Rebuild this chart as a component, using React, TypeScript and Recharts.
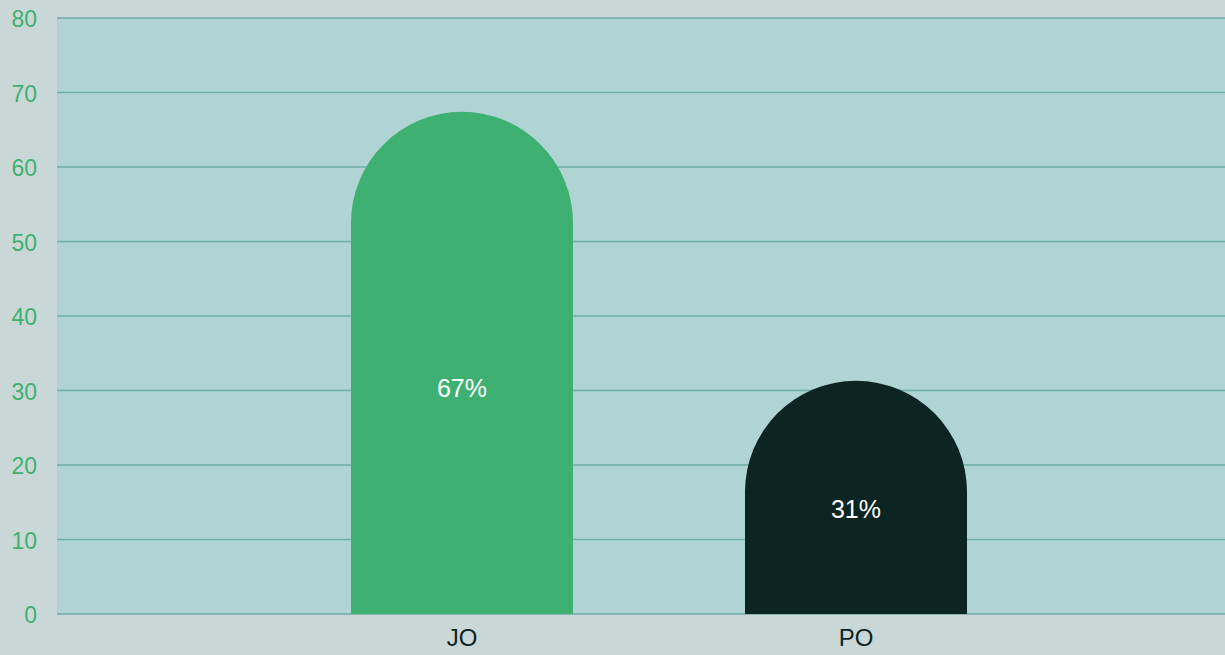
import React from 'react';
import { BarChart, Bar, XAxis, YAxis, CartesianGrid, LabelList, Cell } from 'recharts';

const categories = ['JO', 'PO'];
const shares = [67.4, 31.3];
const barColors = ['#3eb072', '#0c2422'];
const yTicks = [0, 10, 20, 30, 40, 50, 60, 70, 80];

const data = categories.map((name, i) => ({ name, value: shares[i] }));

const FONT = '"Liberation Sans", Arial, sans-serif';

// подпись чуть ниже середины столбца, округлённый процент
const PctLabel = (props: any) => {
  const { x, y, width, height, value } = props;
  return (
    <text
      x={x + width / 2}
      y={y + height * 0.55}
      fill="#ffffff"
      fontSize={25}
      textAnchor="middle"
      dominantBaseline="central"
      fontFamily={FONT}
    >
      {Math.round(value)}%
    </text>
  );
};

export default function App() {
  return (
    <div
      style={{
        position: 'absolute',
        left: 0,
        top: 0,
        width: 1225,
        height: 655,
        background: '#cad7d7',
        fontFamily: FONT,
      }}
    >
      <BarChart
        width={1225}
        height={655}
        data={data}
        margin={{ top: 18, right: 0, bottom: 0, left: 0 }}
        barSize={222}
      >
        <CartesianGrid vertical={false} fill="#b0d4d4" stroke="#6fada9" strokeWidth={1.5} />
        <XAxis
          dataKey="name"
          height={41}
          axisLine={false}
          tickLine={false}
          padding={{ left: 208, right: 172 }}
          tick={{ fill: '#0c2422', fontSize: 24, fontFamily: FONT }}
          tickMargin={9}
        />
        <YAxis
          width={57}
          domain={[0, 80]}
          ticks={yTicks}
          axisLine={false}
          tickLine={false}
          tickSize={0}
          tickMargin={20}
          tick={{ fill: '#3eb072', fontSize: 23, dy: 1, fontFamily: FONT }}
        />
        <Bar dataKey="value" radius={[111, 111, 0, 0]} isAnimationActive={false}>
          {data.map((d, i) => (
            <Cell key={d.name} fill={barColors[i]} />
          ))}
          <LabelList dataKey="value" content={PctLabel} />
        </Bar>
      </BarChart>
    </div>
  );
}
